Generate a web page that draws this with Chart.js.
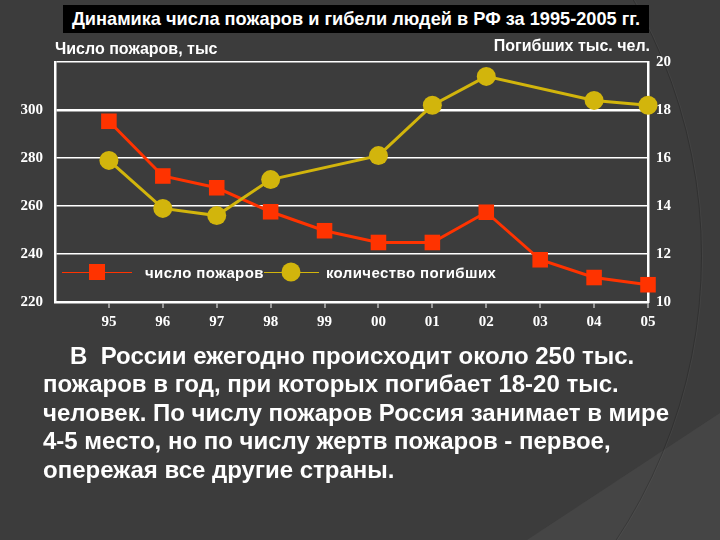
<!DOCTYPE html>
<html lang="ru">
<head>
<meta charset="utf-8">
<title>Динамика числа пожаров</title>
<script src="https://cdn.jsdelivr.net/npm/chart.js@4.4.1/dist/chart.umd.min.js"></script>
<style>
  html, body { margin: 0; padding: 0; }
  body {
    width: 720px; height: 540px; overflow: hidden; position: relative;
    background: #3c3c3c;
    font-family: "Liberation Sans", Arial, sans-serif;
    color: #fff;
  }
  .bg-light {
    position: absolute; left: 0; top: 0; width: 720px; height: 540px;
    background: #454545;
    clip-path: polygon(527px 540px, 720px 413px, 720px 540px);
  }
  .bg-arc {
    position: absolute; left: -330px; top: -260px; width: 1030px; height: 1030px;
    border-radius: 50%; border: 1px solid rgba(0,0,0,0.18);
    box-shadow: 1px 0 0 rgba(255,255,255,0.04);
  }
  #chart { position: absolute; left: 0; top: 0; }
  .title {
    position: absolute; left: 63px; top: 5px; width: 586px; height: 28px;
    background: #000; font-weight: bold; font-size: 18.2px; line-height: 28px;
    text-align: center; white-space: nowrap;
  }
  .axis-title { position: absolute; font-weight: bold; font-size: 16px; white-space: nowrap; }
  .legend {
    position: absolute; top: 262px; height: 20px; display: flex; align-items: center;
    font-weight: bold; font-size: 15px; white-space: nowrap; letter-spacing: 0.4px;
  }
  .legend .icon { position: relative; height: 20px; }
  .legend .icon .ln { position: absolute; left: 0; right: 0; top: 10px; height: 1px; }
  .legend .icon .mk { position: absolute; top: 50%; left: 50%; transform: translate(-50%, -50%); }
  .text {
    position: absolute; left: 43px; top: 342px; width: 680px;
    font-weight: bold; font-size: 24px; line-height: 28.4px; white-space: nowrap;
  }
</style>
</head>
<body>
<div class="bg-light"></div>
<div class="bg-arc"></div>
<canvas id="chart" width="720" height="540"></canvas>

<div class="title">Динамика числа пожаров и гибели людей в РФ за 1995-2005 гг.</div>
<div class="axis-title" style="left:55px; top:40px;">Число пожаров, тыс</div>
<div class="axis-title" style="right:70px; top:37px;">Погибших тыс. чел.</div>

<div class="legend" style="left:62px;">
  <div class="icon" style="width:70px;">
    <div class="ln" style="background:#ff3300;"></div>
    <div class="mk" style="width:16px; height:16px; background:#ff3300;"></div>
  </div>
  <span style="margin-left:13px;">число пожаров</span>
  <div class="icon" style="width:55px;">
    <div class="ln" style="background:#d2b50c;"></div>
    <div class="mk" style="width:19px; height:19px; border-radius:50%; background:#d2b50c;"></div>
  </div>
  <span style="margin-left:7px;">количество погибших</span>
</div>

<div class="text">
  <span style="padding-left:27px;">В&nbsp; России ежегодно происходит около 250 тыс.</span><br>
  пожаров в год, при которых погибает 18-20 тыс.<br>
  человек. По числу пожаров Россия занимает в мире<br>
  4-5 место, но по числу жертв пожаров - первое,<br>
  опережая все другие страны.
</div>

<script>
/* ---------- Данные ---------- */
const YEARS  = ['95', '96', '97', '98', '99', '00', '01', '02', '03', '04', '05'];
// число пожаров, тыс (левая ось)
const FIRES  = [295.3, 272.5, 267.6, 257.6, 249.7, 244.8, 244.8, 257.4, 237.6, 230.2, 227.2];
// погибших, тыс. чел. (правая ось); в 99 и 03 точек нет
const DEATHS = [15.9, 13.9, 13.6, 15.1, null, 16.1, 18.2, 19.4, null, 18.4, 18.2];

const LEFT_TICKS  = [220, 240, 260, 280, 300];
const RIGHT_TICKS = [10, 12, 14, 16, 18, 20];

const RED    = '#ff3300';
const YELLOW = '#d2b50c';
const SERIF  = { family: '"Liberation Serif", "Times New Roman", serif', size: 15, weight: 'bold' };

const toPoints = arr => arr.map((v, i) => ({ x: i, y: v }));

new Chart(document.getElementById('chart'), {
  type: 'line',
  data: {
    datasets: [
      {
        label: 'число пожаров',
        data: toPoints(FIRES),
        yAxisID: 'yL',
        borderColor: RED, backgroundColor: RED,
        borderWidth: 3, pointStyle: 'rect', pointRadius: 11, pointBorderWidth: 0,
        tension: 0, order: 1, clip: false,
      },
      {
        label: 'количество погибших',
        data: toPoints(DEATHS),
        yAxisID: 'yR',
        borderColor: YELLOW, backgroundColor: YELLOW,
        borderWidth: 3, pointStyle: 'circle', pointRadius: 9.5, pointBorderWidth: 0,
        spanGaps: true, tension: 0, order: 0, clip: false,
      },
    ],
  },
  options: {
    responsive: false,
    animation: false,
    layout: { padding: { left: 0, right: 0, top: 62, bottom: 203 } },
    plugins: { legend: { display: false }, tooltip: { enabled: false } },
    scales: {
      x: {
        type: 'linear', min: -1, max: 10,
        afterBuildTicks: s => { s.ticks = YEARS.map((_, i) => ({ value: i })); },
        afterFit: s => { s.height = 35; },
        ticks: { color: '#fff', font: SERIF, padding: 5, maxRotation: 0,
                 callback: v => YEARS[v] ?? '' },
        grid: { drawOnChartArea: false, drawTicks: true, tickLength: 6, color: '#9a9a9a', lineWidth: 2 },
        border: { color: '#fff', width: 2.5 },
      },
      yL: {
        position: 'left', min: 220, max: 320,
        afterBuildTicks: s => { s.ticks = LEFT_TICKS.concat([320]).map(v => ({ value: v })); },
        afterFit: s => { s.width = 55; },
        ticks: { color: '#fff', font: SERIF, padding: 12,
                 callback: v => LEFT_TICKS.includes(v) ? String(v) : '' },
        grid: { drawTicks: false, color: '#fff',
                lineWidth: c => (c.tick && c.tick.value === 300) ? 2.5 : 1.5 },
        border: { color: '#fff', width: 2.5 },
      },
      yR: {
        position: 'right', min: 10, max: 20,
        afterBuildTicks: s => { s.ticks = RIGHT_TICKS.map(v => ({ value: v })); },
        afterFit: s => { s.width = 72; },
        ticks: { color: '#fff', font: SERIF, padding: 8 },
        grid: { drawOnChartArea: false, drawTicks: false },
        border: { color: '#fff', width: 2.5 },
      },
    },
  },
});
</script>
</body>
</html>
